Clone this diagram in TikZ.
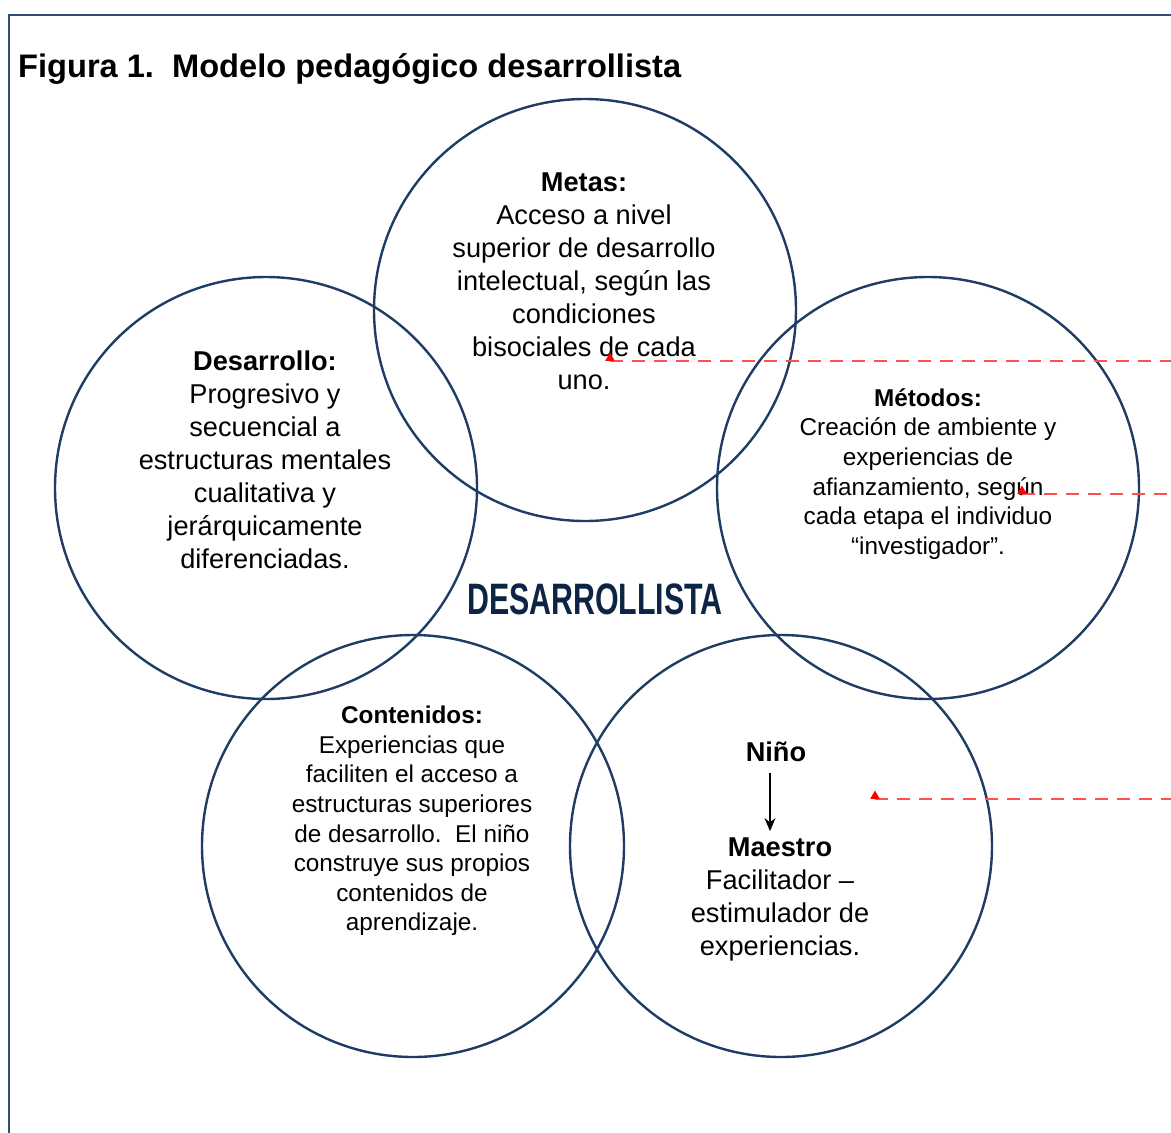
\documentclass[tikz,border=0pt]{standalone}
\usepackage{fontspec}
\setmainfont{Liberation Sans}
\usetikzlibrary{shapes.geometric,arrows.meta}
\definecolor{navy}{HTML}{1F3C64}
\definecolor{frame}{HTML}{2E4D78}
\definecolor{dashred}{HTML}{FF5050}
\definecolor{inkblue}{HTML}{0E2444}
\tikzset{
  circ/.style={circle, draw=navy, line width=2.4pt, minimum size=422pt, inner sep=0pt},
  bigtxt/.style={align=center, font=\fontsize{27.2}{33}\selectfont, inner sep=0pt},
  smalltxt/.style={align=center, font=\fontsize{24.3}{29.6}\selectfont, inner sep=0pt},
  reddash/.style={draw=dashred, line width=2.9pt, dash pattern=on 13pt off 9pt},
  redtri/.style={regular polygon, regular polygon sides=3, fill=red, inner sep=0pt, minimum size=11pt, anchor=south}
}
\begin{document}
\begin{tikzpicture}[x=1pt,y=-1pt]
\useasboundingbox (0,0) rectangle (1171,1133);
% frame
\draw[frame, line width=2pt] (1175,15) -- (9,15) -- (9,1140);
% title
\node[anchor=west, font=\fontsize{32.6}{36}\selectfont\bfseries, inner sep=0pt] (title) at (18,69) {Figura 1.\ \ Modelo pedagógico desarrollista};
% circles
\node[circ] (cmetas) at (585,310) {};
\node[circ] (cdes) at (266,488) {};
\node[circ] (cmet) at (928,488) {};
\node[circ] (ccon) at (413,846) {};
\node[circ] (cnino) at (781,846) {};
% texts
\node[bigtxt] (tmetas) at (584,281) {\textbf{Metas:}\\Acceso a nivel\\superior de desarrollo\\intelectual, según las\\condiciones\\bisociales de cada\\uno.};
\node[bigtxt] (tdes) at (265,460) {\textbf{Desarrollo:}\\Progresivo y\\secuencial a\\estructuras mentales\\cualitativa y\\jerárquicamente\\diferenciadas.};
\node[smalltxt] (tmet) at (928,474) {\textbf{Métodos:}\\Creación de ambiente y\\experiencias de\\afianzamiento, según\\cada etapa el individuo\\“investigador”.};
\node[smalltxt] (tcon) at (412,821) {\textbf{Contenidos:}\\Experiencias que\\faciliten el acceso a\\estructuras superiores\\de desarrollo.\ \ El niño\\construye sus propios\\contenidos de\\aprendizaje.};
\node[bigtxt, font=\fontsize{27.2}{33}\selectfont\bfseries] (nino) at (776,752) {Niño};
\node[bigtxt] (maestro) at (780,899) {\textbf{Maestro}\\Facilitador –\\estimulador de\\experiencias.};
\draw[line width=1.5pt, -{Stealth[length=13pt,width=11pt]}] ([xshift=-6pt,yshift=-11pt]nino.south) -- ([xshift=-10pt,yshift=6pt]maestro.north);
% central label
\node[inner sep=0pt, text=inkblue, font=\fontsize{44}{44}\selectfont\bfseries, xscale=0.69] (central) at (595,599) {DESARROLLISTA};
% red dashed markers
\coordinate (a1) at (610,361);
\coordinate (b1) at (1175,361);
\coordinate (a2) at (1022,494);
\coordinate (b2) at (1175,494);
\coordinate (a3) at (875,799);
\coordinate (b3) at (1175,799);
\draw[reddash] (a1) -- (b1);
\draw[reddash] (a2) -- (b2);
\draw[reddash] (a3) -- (b3);
\node[redtri] (m1) at (a1) {};
\node[redtri] (m2) at (a2) {};
\node[redtri] (m3) at (a3) {};
\end{tikzpicture}
\end{document}
